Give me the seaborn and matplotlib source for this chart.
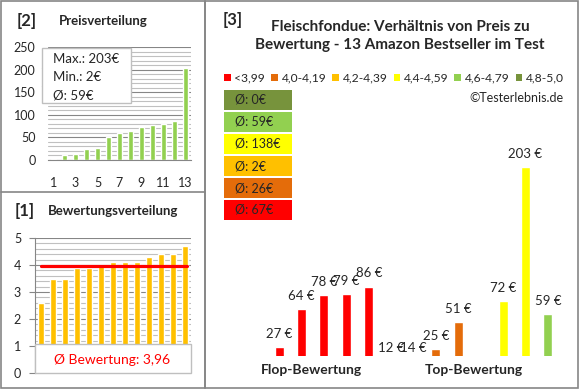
import numpy as np
import matplotlib
matplotlib.use("Agg")
import matplotlib.pyplot as plt
import seaborn as sns
from matplotlib.patches import Rectangle, Patch
from matplotlib.ticker import MultipleLocator
import matplotlib.transforms as mtransforms

# --- Daten ---
# Preise aller 13 Produkte, aufsteigend (Panel [2])
preise = [2, 12, 14, 25, 27, 51, 59, 64, 72, 78, 79, 86, 203]
# Bewertungen, aufsteigend (Panel [1])
bewertungen = [2.6, 3.5, 3.5, 3.9, 3.9, 4.0, 4.1, 4.1, 4.1, 4.3, 4.4, 4.4, 4.7]
# Bewertungsklassen (Legende Panel [3])
klassen = ["<3,99", "4,0-4,19", "4,2-4,39", "4,4-4,59", "4,6-4,79", "4,8-5,0"]
klassen_farben = ["#FF0000", "#E46C0A", "#FFC000", "#FFFF00", "#92D050", "#77933C"]
# Panel [3]: Preise nach Bewertungsklasse sortiert
produkt_preise = [27, 64, 78, 79, 86, 12, 14, 25, 51, 2, 72, 203, 59]
produkt_klasse = [0, 0, 0, 0, 0, 1, 1, 1, 1, 2, 3, 3, 4]
gruppen = ["Flop-Bewertung", "Top-Bewertung"]

W, H = 580, 390
GRAU = "#868686"
HELLGRAU = "#C0C0C0"


def rect(x0, y0, x1, y1):
    # Pixelkoordinaten (oben links) -> Figure-Koordinaten
    return [x0 / W, 1 - y1 / H, (x1 - x0) / W, (y1 - y0) / H]


def fx(x):
    return x / W


def fy(y):
    return 1 - y / H


def runden(x):
    return int(np.floor(x + 0.5))


sns.set_style("white")
plt.rcParams["font.family"] = ["Lato", "DejaVu Sans"]

fig = plt.figure(figsize=(W / 100, H / 100), dpi=100)

# Rahmen
fig.patches.append(Rectangle((fx(1), fy(388)), 204 / W, 387 / H, transform=fig.transFigure,
                             fill=False, ec=GRAU, lw=1.2, zorder=0))
fig.patches.append(Rectangle((fx(205), fy(388)), 373 / W, 387 / H, transform=fig.transFigure,
                             fill=False, ec=GRAU, lw=1.2, zorder=0))
fig.lines.append(plt.Line2D([fx(1), fx(205)], [fy(192), fy(192)], transform=fig.transFigure,
                            color=GRAU, lw=1.2))

# --- Panel [2] Preisverteilung ---
ax2 = fig.add_axes(rect(48, 47, 191, 160))
pos = list(range(len(preise)))
sns.barplot(x=pos, y=preise, color="#92D050", saturation=1, width=0.4, ax=ax2)
ax2.set_ylim(0, 250)
ax2.set_xlim(-0.5, len(preise) - 0.5)
ax2.yaxis.set_major_locator(MultipleLocator(50))
ax2.yaxis.set_minor_locator(MultipleLocator(10))
ax2.grid(axis="y", which="major", color=GRAU, lw=0.8)
ax2.grid(axis="y", which="minor", color=HELLGRAU, lw=0.8)
ax2.set_axisbelow(True)
ax2.set_xticks(pos[::2])
ax2.set_xticklabels([str(p + 1) for p in pos[::2]])
ax2.tick_params(axis="x", length=0, pad=12, labelsize=9)
ax2.tick_params(axis="y", which="both", length=0, pad=9, labelsize=9)
for s in ["top", "right", "left"]:
    ax2.spines[s].set_visible(False)
ax2.spines["bottom"].set_color(GRAU)
ax2.set_xlabel("")
ax2.set_ylabel("")

fig.text(fx(17), fy(21), "[2]", fontsize=12, fontweight="bold", va="center")
fig.text(fx(59), fy(21), "Preisverteilung", fontsize=9.5, fontweight="bold", va="center")

# Infobox
box_x0, box_x1, box_y0, box_y1 = 42, 131, 48, 103
fig.patches.append(Rectangle((fx(box_x0), fy(box_y1)), (box_x1 - box_x0) / W, (box_y1 - box_y0) / H,
                             transform=fig.transFigure, fc="white", ec="#BFBFBF", lw=1, zorder=2))
for yl in [68, 86]:
    fig.lines.append(plt.Line2D([fx(box_x0), fx(box_x1)], [fy(yl), fy(yl)], transform=fig.transFigure,
                                color="#BFBFBF", lw=1, zorder=2))
infos = [f"Max.: {max(preise)}€", f"Min.: {min(preise)}€", f"Ø: {runden(np.mean(preise))}€"]
for txt, yc in zip(infos, [59, 77, 95]):
    fig.text(fx(53), fy(yc), txt, fontsize=9.5, va="center", zorder=3)

# --- Panel [1] Bewertungsverteilung ---
ax1 = fig.add_axes(rect(35, 238, 191, 373))
sns.barplot(x=pos, y=bewertungen, color="#FFC000", saturation=1, width=0.45, ax=ax1)
ax1.set_ylim(0, 5)
ax1.set_xlim(-0.5, len(bewertungen) - 0.5)
ax1.yaxis.set_major_locator(MultipleLocator(1))
ax1.yaxis.set_minor_locator(MultipleLocator(0.2))
ax1.grid(axis="y", which="major", color=GRAU, lw=0.8)
ax1.grid(axis="y", which="minor", color=HELLGRAU, lw=0.8)
ax1.set_axisbelow(True)
ax1.set_xticks([])
ax1.tick_params(axis="y", which="major", length=4, color=GRAU, pad=6, labelsize=9, left=True)
ax1.tick_params(axis="y", which="minor", length=0)
for s in ["top", "right", "bottom"]:
    ax1.spines[s].set_visible(False)
ax1.spines["left"].set_color(GRAU)
ax1.set_xlabel("")
ax1.set_ylabel("")
mittel = np.mean(bewertungen)
ax1.axhline(mittel, xmin=0.04, xmax=0.975, color="#FF0000", lw=2.3)

fig.text(fx(15), fy(211), "[1]", fontsize=12, fontweight="bold", va="center")
fig.text(fx(48), fy(211), "Bewertungsverteilung", fontsize=9.5, fontweight="bold", va="center")

fig.patches.append(Rectangle((fx(35), fy(373)), (191 - 35) / W, (373 - 344) / H,
                             transform=fig.transFigure, fc="white", ec="#BFBFBF", lw=1, zorder=2))
fig.text(fx(112), fy(360), f"Ø Bewertung: {mittel:.2f}".replace(".", ","), fontsize=10,
         color="#FF0000", ha="center", va="center", zorder=3)

# --- Panel [3] Preis zu Bewertung ---
ax3 = fig.add_axes(rect(268, 150, 559, 356))
pos3 = list(range(len(produkt_preise)))
farben3 = [klassen_farben[k] for k in produkt_klasse]
sns.barplot(x=pos3, y=produkt_preise, hue=pos3, palette=farben3, saturation=1, width=0.4,
            dodge=False, legend=False, ax=ax3)
ymin = 18
ax3.set_ylim(ymin, 220)
ax3.set_xlim(-0.5, len(produkt_preise) - 0.5)
ax3.axis("off")
for i, v in enumerate(produkt_preise):
    if v < 10:
        continue  # Label im Original nicht lesbar
    off = 9.5 if v > ymin else 5.5
    ax3.annotate(f"{v} €", (i, max(v, ymin)), xytext=(0, off), textcoords="offset points",
                 ha="center", va="center", fontsize=9.5, annotation_clip=False)

trans = mtransforms.blended_transform_factory(ax3.transData, fig.transFigure)
ax3.text(1.46, fy(370), gruppen[0], transform=trans, ha="center", va="center",
         fontsize=10, fontweight="bold")
ax3.text(8.7, fy(370), gruppen[1], transform=trans, ha="center", va="center",
         fontsize=10, fontweight="bold")

fig.text(fx(223), fy(20), "[3]", fontsize=12, fontweight="bold", va="center")
fig.text(fx(400), fy(36), "Fleischfondue: Verhältnis von Preis zu\nBewertung - 13 Amazon Bestseller im Test",
         fontsize=11, fontweight="bold", ha="center", va="center", linespacing=1.4)

handles = [Patch(facecolor=c, edgecolor="none") for c in klassen_farben]
fig.legend(handles, klassen, loc="center", bbox_to_anchor=(fx(394), fy(78)), ncol=6,
           frameon=False, handlelength=0.55, handleheight=0.55, handletextpad=0.3,
           columnspacing=0.5, fontsize=8.7, borderpad=0)
fig.text(fx(563), fy(98), "©Testerlebnis.de", fontsize=9, ha="right", va="center")

# Durchschnittspreise je Klasse
for j, k in enumerate(reversed(range(len(klassen)))):
    werte = [p for p, c in zip(produkt_preise, produkt_klasse) if c == k]
    avg = runden(np.mean(werte)) if werte else 0
    y0 = 90 + j * 22
    fig.patches.append(Rectangle((fx(224), fy(y0 + 20)), 68 / W, 20 / H, transform=fig.transFigure,
                                 fc=klassen_farben[k], ec="none", zorder=2))
    fig.text(fx(235), fy(y0 + 10), f"Ø: {avg}€", fontsize=9, va="center", zorder=3)

fig.savefig("out.png", dpi=100)
